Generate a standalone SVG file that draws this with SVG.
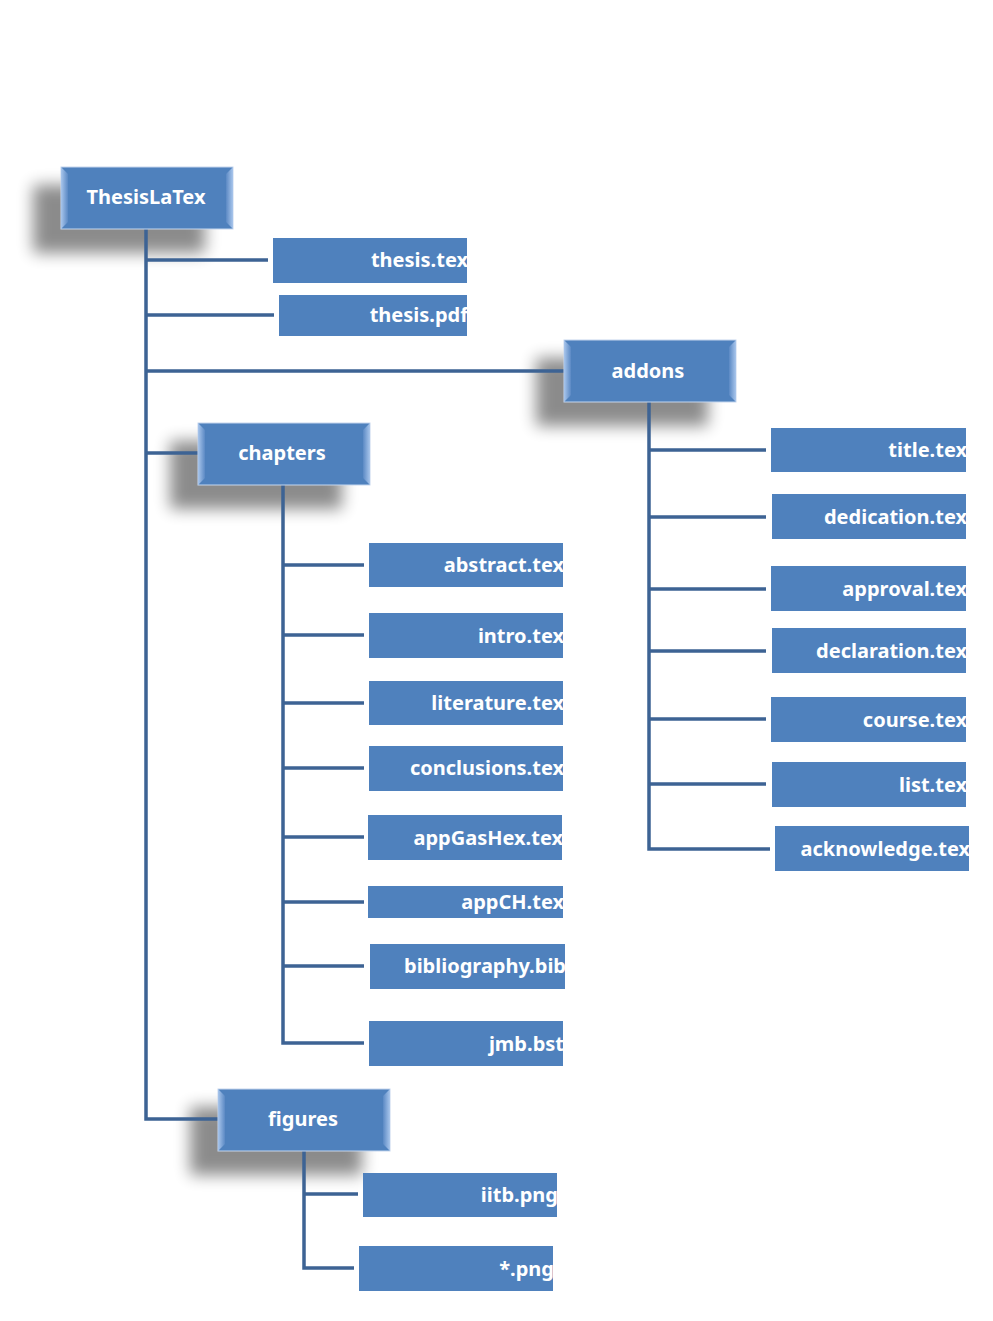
<svg xmlns="http://www.w3.org/2000/svg" width="993" height="1321" viewBox="0 0 993 1321">
<defs>
<filter id="sh" x="-50%" y="-50%" width="200%" height="200%"><feGaussianBlur stdDeviation="8"/></filter>
<linearGradient id="bl" x1="0" x2="1" y1="0" y2="0"><stop offset="0" stop-color="#a9c6ec"/><stop offset="1" stop-color="#5b89c4"/></linearGradient>
<linearGradient id="br" x1="0" x2="1" y1="0" y2="0"><stop offset="0" stop-color="#5b89c4"/><stop offset="1" stop-color="#a9c6ec"/></linearGradient>
</defs>
<style>
.c{stroke:#3d6394;stroke-width:3.5;fill:none}
.f{fill:#4f81bd}
.t{fill:#fff;font-family:"Noto Sans","Open Sans",sans-serif;font-weight:bold;font-size:20px;text-anchor:end}
.m{fill:#fff;font-family:"Noto Sans","Open Sans",sans-serif;font-weight:bold;font-size:20px;text-anchor:middle}
.s{fill:#000;opacity:0.45;filter:url(#sh)}
.e{stroke:#c5d6ee;stroke-width:1;fill:#4f81bd}
</style>
<g id="shadows">
<rect class="s" x="33" y="185" width="172" height="68"/>
<rect class="s" x="536" y="358" width="172" height="68"/>
<rect class="s" x="170" y="441" width="172" height="68"/>
<rect class="s" x="190" y="1107" width="172" height="68"/>
</g>
<g id="connectors">
<path class="c" d="M146 229V1119H218"/>
<path class="c" d="M146 260H268M146 315H274M146 371H564M146 453H198"/>
<path class="c" d="M283 485V1043H364M283 565H364M283 635H364M283 703H364M283 768H364M283 837H364M283 902H364M283 966H364"/>
<path class="c" d="M304 1151V1268H354M304 1194H358"/>
<path class="c" d="M649 402V849H770M649 450H766M649 517H766M649 589H766M649 651H766M649 719H766M649 784H766"/>
</g>
<g id="n-root"><rect class="e" x="61" y="167" width="172" height="62"/><polygon points="61,167 68,174 68,222 61,229" fill="url(#bl)"/><polygon points="233,167 226,174 226,222 233,229" fill="url(#br)"/><text class="m" x="146" y="204">ThesisLaTex</text></g>
<g id="n-addons"><rect class="e" x="564" y="340" width="172" height="62"/><polygon points="564,340 571,347 571,395 564,402" fill="url(#bl)"/><polygon points="736,340 729,347 729,395 736,402" fill="url(#br)"/><text class="m" x="648" y="378">addons</text></g>
<g id="n-chapters"><rect class="e" x="198" y="423" width="172" height="62"/><polygon points="198,423 205,430 205,478 198,485" fill="url(#bl)"/><polygon points="370,423 363,430 363,478 370,485" fill="url(#br)"/><text class="m" x="282" y="460">chapters</text></g>
<g id="n-figures"><rect class="e" x="218" y="1089" width="172" height="62"/><polygon points="218,1089 225,1096 225,1144 218,1151" fill="url(#bl)"/><polygon points="390,1089 383,1096 383,1144 390,1151" fill="url(#br)"/><text class="m" x="303" y="1126">figures</text></g>
<g id="n-thesistex"><rect class="f" x="273" y="238" width="194" height="45"/><text class="t" x="468" y="267">thesis.tex</text></g>
<g id="n-thesispdf"><rect class="f" x="279" y="295" width="188" height="41"/><text class="t" x="468" y="322">thesis.pdf</text></g>
<g id="n-abstract"><rect class="f" x="369" y="543" width="194" height="44"/><text class="t" x="564" y="572">abstract.tex</text></g>
<g id="n-intro"><rect class="f" x="369" y="613" width="194" height="45"/><text class="t" x="564" y="643">intro.tex</text></g>
<g id="n-literature"><rect class="f" x="369" y="681" width="194" height="44"/><text class="t" x="564" y="710">literature.tex</text></g>
<g id="n-conclusions"><rect class="f" x="369" y="746" width="194" height="45"/><text class="t" x="564" y="775">conclusions.tex</text></g>
<g id="n-appgashex"><rect class="f" x="368" y="815" width="194" height="45"/><text class="t" x="563" y="845">appGasHex.tex</text></g>
<g id="n-appch"><rect class="f" x="368" y="886" width="195" height="32"/><text class="t" x="564" y="909">appCH.tex</text></g>
<g id="n-bib"><rect class="f" x="370" y="944" width="195" height="45"/><text class="t" x="566" y="973">bibliography.bib</text></g>
<g id="n-jmb"><rect class="f" x="369" y="1021" width="194" height="45"/><text class="t" x="564" y="1051">jmb.bst</text></g>
<g id="n-iitb"><rect class="f" x="363" y="1173" width="194" height="44"/><text class="t" x="558" y="1202">iitb.png</text></g>
<g id="n-png"><rect class="f" x="359" y="1246" width="194" height="45"/><text class="t" x="554" y="1276">*.png</text></g>
<g id="n-title"><rect class="f" x="771" y="428" width="195" height="44"/><text class="t" x="967" y="457">title.tex</text></g>
<g id="n-dedication"><rect class="f" x="772" y="494" width="194" height="45"/><text class="t" x="967" y="524">dedication.tex</text></g>
<g id="n-approval"><rect class="f" x="771" y="566" width="195" height="45"/><text class="t" x="967" y="596">approval.tex</text></g>
<g id="n-declaration"><rect class="f" x="772" y="628" width="194" height="45"/><text class="t" x="967" y="658">declaration.tex</text></g>
<g id="n-course"><rect class="f" x="771" y="697" width="195" height="45"/><text class="t" x="967" y="727">course.tex</text></g>
<g id="n-list"><rect class="f" x="772" y="762" width="194" height="45"/><text class="t" x="967" y="792">list.tex</text></g>
<g id="n-ack"><rect class="f" x="775" y="826" width="194" height="45"/><text class="t" x="970" y="856">acknowledge.tex</text></g>
</svg>
